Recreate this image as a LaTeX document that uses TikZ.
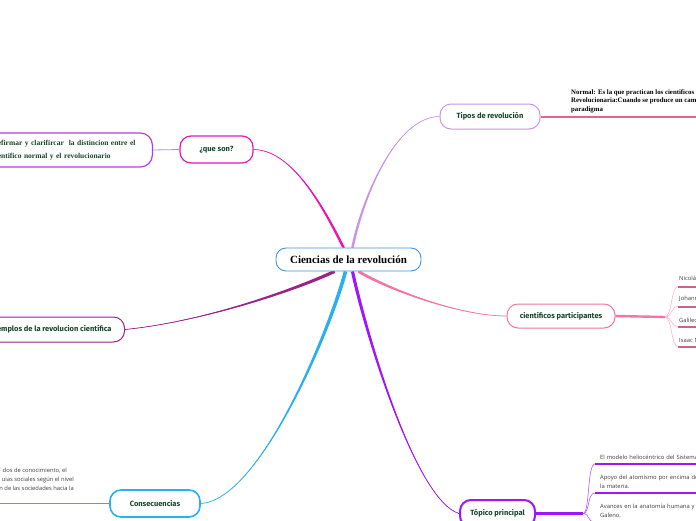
\documentclass[tikz,border=0pt]{standalone}
\usepackage{fontspec}
\setmainfont{Liberation Serif}
\newfontfamily\leaffont{Open Sans}
\newfontfamily\topicfont{Fira Sans}
\usetikzlibrary{positioning,calc,backgrounds}
\definecolor{ink}{RGB}{60,60,60}
\definecolor{leafgreen}{RGB}{22,70,42}
\definecolor{hubblue}{RGB}{60,150,215}
\definecolor{quemag}{RGB}{228,24,182}
\definecolor{refpurple}{RGB}{180,60,230}
\definecolor{refline}{RGB}{200,130,235}
\definecolor{tipopurple}{RGB}{200,150,230}
\definecolor{tipline}{RGB}{232,96,146}
\definecolor{partpink}{RGB}{244,116,162}
\definecolor{partlight}{RGB}{250,180,208}
\definecolor{partdark}{RGB}{200,100,140}
\definecolor{ejmag}{RGB}{156,34,136}
\definecolor{conblue}{RGB}{42,176,240}
\definecolor{topurple}{RGB}{160,22,248}
\definecolor{toplight}{RGB}{182,90,248}
\tikzset{
  hubnode/.style={draw=hubblue, line width=0.9pt, rounded corners=10pt, fill=white,
    minimum width=145pt, minimum height=23pt, text=black,
    font=\bfseries\fontsize{11}{13}\selectfont},
  topic/.style={rounded corners=11pt, fill=white, line width=1pt, minimum height=26pt,
    inner xsep=4pt, text=leafgreen, font=\topicfont\bfseries\fontsize{7.5}{9}\selectfont},
  refbox/.style={draw=refpurple, line width=1.2pt, rounded corners=12pt, fill=white,
    text width=150pt, inner xsep=10pt, minimum height=34pt, align=left, text=leafgreen,
    font=\bfseries\fontsize{7.5}{13}\selectfont},
  note/.style={inner sep=0pt, align=left, text=black, font=\bfseries\fontsize{6.8}{8.5}\selectfont},
  blurb/.style={inner sep=0pt, text=ink, font=\leaffont\fontsize{5.8}{9}\selectfont},
  leaf/.style={blurb, anchor=south west, align=left, text width=120pt, inner ysep=4pt},
  twig/.style={line width=0.6pt},
  bar/.style={line width=2pt},
}
% tapered branch: colour, half width, start, control 1, control 2, end
\newcommand{\limb}[6]{%
  \fill[#1] ($#3-#2$) .. controls ($#4-#2$) and #5 .. #6
    .. controls #5 and ($#4+#2$) .. ($#3+#2$) -- cycle;
  \draw[#1, line width=0.7pt] #3 .. controls #4 and #5 .. #6;}

\begin{document}
\begin{tikzpicture}[x=1pt, y=-1pt]
  \useasboundingbox (0,0) rectangle (696,520);
  \clip (0,0) rectangle (696,520);

  \node[hubnode] (hub) at (348.5,259.5) {Ciencias de la revolución};

  % upper left
  \node[topic, draw=quemag, line width=1.2pt, minimum width=73pt, minimum height=27pt] (que) at (216.5,149.5) {¿que son?};
  \node[refbox, anchor=east] (ref) at (153,150) {Refirmar y clarifircar\ \ la distincion entre el\\cientifico normal y el revolucionario};
  \draw[refline, line width=0.8pt] (que.west) -- (ref.east);

  % upper right
  \node[topic, draw=tipopurple, minimum width=100pt, minimum height=25pt] (tipos) at (490,116.5) {Tipos de revolución};
  \coordinate (tipos-end) at (700,116.5);
  \draw[bar, tipline] (tipos.east) -- (tipos-end);
  \node[note, anchor=north west] (tipos-note) at (571,89.5) {Normal: Es la que practican los cientificos\\Revolucionaria:Cuando se produce un cambio de\\paradigma};

  % right
  \node[topic, draw=partpink, minimum width=108pt, minimum height=24pt] (part) at (561,316) {científicos participantes};
  \coordinate (part-fork) at (665,317);
  \draw[partpink, line width=2.4pt] (part.east) -- (part-fork);
  \foreach \who [count=\i] in {Nicolás Copérnico, Johannes Kepler, Galileo Galilei, Isaac Newton} {
    \node[leaf, inner xsep=1pt] (sci-\i) at (678,266.5+20*\i) {\who};
    \draw[twig, partlight] (part-fork) .. controls (672,317) and ($(sci-\i.south west)+(-7,0)$) .. (sci-\i.south west);
    \draw[bar, partdark] (sci-\i.south west) -- (sci-\i.south east);
  }

  % left
  \node[topic, draw=ejmag, anchor=east, inner xsep=13pt, minimum height=25pt] (ej) at (125,329.5) {Ejemplos de la revolucion científica};

  % lower left
  \node[topic, draw=conblue, line width=1.6pt, minimum width=90pt, minimum height=27pt] (con) at (155,503.5) {Consecuencias};
  \coordinate (con-end) at (-5,503.5);
  \draw[conblue, line width=1.6pt] (con.west) -- (con-end);
  \node[blurb, anchor=base east] (con-1) at (67,472) {dos de conocimiento, el};
  \node[blurb, anchor=base east] (con-2) at (74,481) {uias sociales según el nivel};
  \node[blurb, anchor=base east] (con-3) at (74,490) {n de las sociedades hacia la};

  % lower right
  \node[topic, draw=topurple, line width=2pt, minimum width=75pt, minimum height=27pt] (top) at (497.5,513.5) {Tópico principal};
  \coordinate (top-fork) at (583,513.5);
  \draw[topurple, line width=2.4pt] (top.east) -- (top-fork);
  \node[leaf, inner xsep=5pt] (fact-1) at (595,464) {El modelo heliocéntrico del Sistema Solar};
  \node[leaf, inner xsep=5pt] (fact-2) at (595,493) {Apoyo del atomismo por encima de\\la materia.};
  \node[leaf, inner xsep=5pt] (fact-3) at (595,522) {Avances en la anatomía humana y\\Galeno.};
  \foreach \f in {fact-1, fact-2, fact-3} {
    \draw[twig, toplight] (top-fork) .. controls (590,513.5) and ($(\f.south west)+(-8,0)$) .. (\f.south west);
    \draw[bar, topurple] (\f.south west) -- (\f.south east);
  }

  % branches behind the nodes
  \begin{scope}[on background layer]
    \coordinate (q0) at ($(hub.north)+(-5,0)$);
    \coordinate (t0) at ($(hub.north)+(4,0)$);
    \coordinate (p0) at ($(hub.south)+(10,0)$);
    \coordinate (e0) at ($(hub.south)+(-14,0)$);
    \coordinate (c0) at ($(hub.south)+(-3,0)$);
    \coordinate (o0) at ($(hub.south)+(4,0)$);
    \limb{quemag}{(1.4,0)}{(q0)}{(320,200)}{(290,150)}{(que.east)}
    \limb{tipopurple}{(1.3,0)}{(t0)}{(362,200)}{(395,117)}{(tipos.west)}
    \limb{partpink}{(0.7,-1.2)}{(p0)}{(390,290)}{(460,316)}{(part.west)}
    \limb{ejmag}{(0.7,1.45)}{(e0)}{(290,292)}{(200,322)}{(ej.east)}
    \limb{conblue}{(1.75,0.45)}{(c0)}{(330,330)}{(260,500)}{(con.east)}
    \limb{topurple}{(1.55,-0.33)}{(o0)}{(365,330)}{(415,500)}{(top.west)}
  \end{scope}
\end{tikzpicture}
\end{document}
